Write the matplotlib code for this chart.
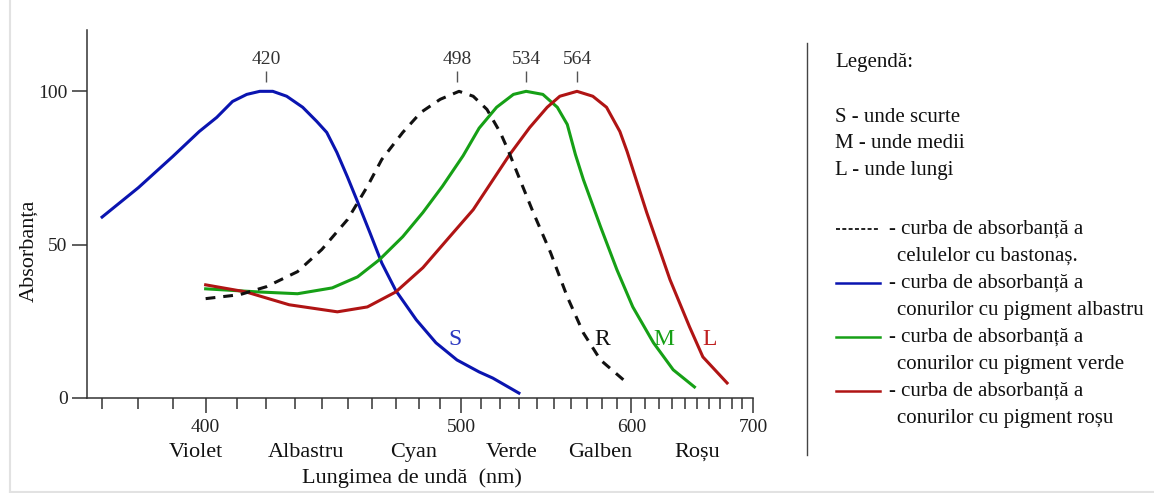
import numpy as np
import matplotlib
matplotlib.use("Agg")
import matplotlib.pyplot as plt
from matplotlib.ticker import FixedLocator

plt.rcParams['font.family'] = ['Liberation Serif', 'DejaVu Serif']

# absorption curves (wavelength nm, absorbance %)
s_wl = [370, 380, 390, 398, 403.5, 408.6, 413.3, 417.7, 422.2, 427.1, 432.9,
        438.1, 441.9, 445.8, 450, 454, 459, 464, 470, 479, 488, 498, 509, 516, 530]
s_abs = [59, 68.6, 78.8, 86.9, 91.5, 96.7, 99, 100, 100, 98.4, 94.8,
         90.2, 86.6, 80.1, 72, 64, 54, 44, 35, 25.5, 18, 12.4, 8.5, 6.5, 1.6]

r_wl = [400, 411, 420, 431, 440, 450, 458, 464, 473, 481, 490, 499, 506, 513,
        520, 524, 529, 538, 548, 558, 568, 579, 597]
r_abs = [32.4, 33.7, 36.3, 41.2, 48.4, 58.2, 69, 77.8, 86.6, 93.1, 97.4, 100,
         98.4, 94.1, 86.5, 81, 73.5, 60.5, 47.4, 33, 21.2, 12.4, 4.9]

m_wl = [400, 417, 431, 444, 454, 463, 473, 482, 491, 501, 509, 518, 527, 534,
        543.5, 552, 558, 563, 568, 579, 590, 601, 616, 631, 648]
m_abs = [35.6, 34.6, 34, 35.9, 39.5, 45.1, 52.6, 60.5, 69, 79, 88, 94.8, 99, 100,
         99, 94.8, 89.2, 79.4, 71.2, 55.9, 41.8, 29.7, 18, 9.2, 3.6]

l_wl = [400, 413, 428, 446, 458, 470, 482, 494.5, 506, 525, 536, 546, 553.5, 564,
        574, 583, 592, 597, 611, 628.5, 644, 655, 676]
l_abs = [36.9, 34.6, 30.4, 28.1, 29.7, 34.6, 42.5, 52.6, 61.4, 79.4, 88.2, 94.8,
         98.4, 100, 98.4, 94.8, 86.9, 80.4, 60.5, 38.6, 23.2, 13.4, 4.9]

peaks = [420, 498, 534, 564]
colour_names = ['Violet', 'Albastru', 'Cyan', 'Verde', 'Galben', 'Roșu']
colour_pos = [397, 434, 478, 526, 579, 650]
curve_letters = ['S', 'R', 'M', 'L']
letter_pos = [497, 580, 624, 661]

blue = '#0a14b0'
green = '#16a016'
red = '#b01414'
black = '#111111'
letter_colors = ['#2a36c0', black, green, '#c02020']

legend_head = 'Legendă:'
legend_codes = ['S - unde scurte', 'M - unde medii', 'L - unde lungi']
legend_lines = [('- curba de absorbanță a', 'celulelor cu bastonaș.'),
                ('- curba de absorbanță a', 'conurilor cu pigment albastru'),
                ('- curba de absorbanță a', 'conurilor cu pigment verde'),
                ('- curba de absorbanță a', 'conurilor cu pigment roșu')]


def fwd(x):
    x = np.asarray(x, dtype=float)
    with np.errstate(divide='ignore'):
        return -1.0 / x


def inv(y):
    y = np.asarray(y, dtype=float)
    with np.errstate(divide='ignore'):
        return -1.0 / y


fig = plt.figure(figsize=(11.54, 4.93), dpi=100)
ax = fig.add_axes([87 / 1154, 1 - 398 / 493, 666 / 1154, 368 / 493])

# wavelength axis drawn on a 1/lambda scale, like the original figure
ax.set_xscale('function', functions=(fwd, inv))
ax.set_xlim(366, 700)
ax.set_ylim(0, 120)

lw = 2.2
ax.plot(s_wl, s_abs, color=blue, lw=lw, solid_joinstyle='round')
ax.plot(m_wl, m_abs, color=green, lw=lw, solid_joinstyle='round')
ax.plot(l_wl, l_abs, color=red, lw=lw, solid_joinstyle='round')
ax.plot(r_wl, r_abs, color=black, lw=lw, dashes=(3.2, 2.6))

# peak marks
ax.vlines(peaks, 103, 106.5, color='#555555', lw=1)
for p in peaks:
    ax.text(p, 110.5, str(p), ha='center', va='center', fontsize=14, color='#333333')

for name, xpos, c in zip(curve_letters, letter_pos, letter_colors):
    ax.text(xpos, 19, name, ha='center', va='center', fontsize=17, color=c)

# axes styling
for side in ['top', 'right']:
    ax.spines[side].set_visible(False)
for side in ['left', 'bottom']:
    ax.spines[side].set_color('#333333')
    ax.spines[side].set_linewidth(1.1)

ax.xaxis.set_major_locator(FixedLocator([400, 500, 600, 700]))
ax.xaxis.set_minor_locator(FixedLocator([v for v in range(370, 700, 10) if v % 100]))
ax.xaxis.set_minor_formatter(plt.NullFormatter())
ax.set_xticklabels(['400', '500', '600', '700'])
ax.set_yticks([0, 50, 100])
ax.tick_params(axis='x', which='major', length=11, width=1.1, color='#333333',
               labelsize=14, pad=4, labelcolor='#222222')
ax.tick_params(axis='x', which='minor', length=8, width=1.1, color='#333333')
ax.tick_params(axis='y', length=11, width=1.1, color='#333333', labelsize=14,
               pad=3, labelcolor='#222222')

for name, xpos in zip(colour_names, colour_pos):
    ax.text(xpos, -0.147, name, transform=ax.get_xaxis_transform(),
            ha='center', va='center', fontsize=16, color='#111111')

ax.set_xlabel('Lungimea de undă  (nm)', fontsize=16, va='center', color='#111111')
ax.xaxis.set_label_coords(0.488, -0.217)
ax.set_ylabel('Absorbanța', fontsize=16, va='center', ha='center', color='#111111')
ax.yaxis.set_label_coords(-0.087, 0.40)

# legend panel in pixel-like coordinates
lg = fig.add_axes([0, 0, 1, 1], zorder=-1)
lg.set_xlim(0, 1154)
lg.set_ylim(493, 0)
lg.axis('off')
lg.plot([10, 10], [0, 492], color='#e2e2e2', lw=1.5)
lg.plot([10, 1154], [492, 492], color='#e2e2e2', lw=1.5)
lg.plot([807, 807], [43, 455], color='#444444', lw=1)

fs = 15
lg.text(835, 62, legend_head, fontsize=fs, va='center', ha='left', color='#111111')
for i, t in enumerate(legend_codes):
    lg.text(835, 118 + 26 * i, t, fontsize=fs, va='center', ha='left', color='#111111')

line_styles = [dict(color=black, lw=1.3, dashes=(2.2, 1.3)),
               dict(color=blue, lw=1.8),
               dict(color=green, lw=1.8),
               dict(color=red, lw=1.8)]
y0 = 229
for (first, second), st in zip(legend_lines, line_styles):
    lg.plot([836, 880], [y0, y0], **st)
    lg.text(889, y0, first, fontsize=fs, va='center', ha='left', color='#111111')
    lg.text(897, y0 + 27, second, fontsize=fs, va='center', ha='left', color='#111111')
    y0 += 54

fig.savefig('out.png', dpi=100)
